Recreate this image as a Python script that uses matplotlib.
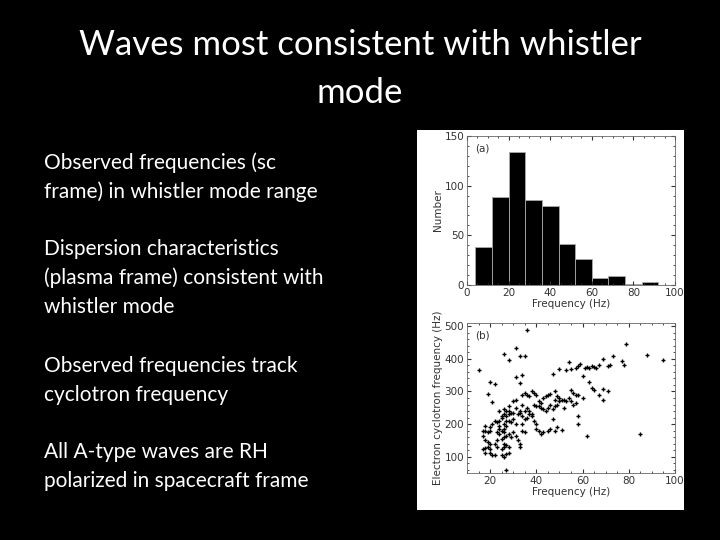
import matplotlib
matplotlib.use("Agg")
import matplotlib.pyplot as plt
from matplotlib.patches import Rectangle

title_lines = ["Waves most consistent with whistler", "mode"]
title_y = [45, 93]
bullets = [["Observed frequencies (sc", "frame) in whistler mode range"],
           ["Dispersion characteristics", "(plasma frame) consistent with", "whistler mode"],
           ["Observed frequencies track", "cyclotron frequency"],
           ["All A-type waves are RH", "polarized in spacecraft frame"]]
bullet_y = [163, 249, 366, 452]

bin_edges = [4, 12, 20, 28, 36, 44, 52, 60, 68, 76, 84, 92]
counts = [38, 89, 134, 86, 80, 41, 26, 7, 9, 1, 3]

scatter_pts = [(15,365),(26,415),(28,398),(31,432),(33,410),(35,410),(36,490),(31,343),(34,352),(33,326),(20,328),(22,322),(19,292),(21,268),(79,447),(88,412),(95,398),(85,170),(62,165),(27,58),(58,225),(58,200),
(47,355),(50,368),(53,365),(54,390),(55,368),(57,372),(58,378),(59,383),(60,347),(61,373),(62,375),(63,372),(64,378),(65,375),(66,372),(67,380),(69,400),(71,378),(72,380),(73,410),(77,392),(78,380),(63,330),(64,310),(65,305),(67,290),(69,275),(69,308),(71,302),(55,305),(56,295),(54,280),(56,260),(57,290),(58,290),(60,280),(53,270),(55,270),(57,265),(52,275),(50,280),(49,285),(48,275),(48,300),(46,292),(45,290),(44,285),(43,280),(42,250),(41,255),(40,290),(39,295),(38,300),(37,285),(36,290),(35,295),(34,290),(34,260),(35,240),(36,250),(37,230),(38,225),(39,260),(40,255),(41,270),(42,265),(43,245),(44,240),(45,250),(46,260),(47,245),(48,255),(49,260),(50,270),(51,275),(52,250),(47,215),(48,180),(46,185),(49,190),(51,182),(45,180),(43,175),(41,180),(42,170),(40,185),(39,210),(40,200),(38,230),(37,240),(36,220),(35,215),(34,225),(33,235),(33,240),(32,230),(31,250),(31,275),(30,270),(29,235),(28,240),(28,230),(27,225),(27,240),(26,232),(26,245),(25,225),(25,218),(24,240),(24,210),(23,205),(22,210),(21,200),(20,190),(20,180),(19,175),(18,180),(18,195),(17,165),(17,180),(18,150),(17,125),(18,128),(19,130),(20,125),(19,145),(18,110),(20,110),(20,140),(21,105),(22,105),(25,105),(26,100),(27,108),(28,110),(25,125),(26,130),(27,135),(28,130),(26,140),(25,155),(26,160),(27,165),(26,175),(25,180),(26,185),(27,195),(28,170),(29,160),(30,175),(31,165),(32,150),(33,140),(33,130),(34,180),(34,200),(35,175),(29,205),(30,215),(31,200),(30,235),(28,255),(28,210),(27,210),(26,200),(24,195),(24,170),(23,150),(22,140),(24,185),(23,130),(23,175)]
sx = [p[0] for p in scatter_pts]
sy = [p[1] for p in scatter_pts]

fig = plt.figure(figsize=(7.2, 5.4), dpi=100, facecolor="black")
for t, y in zip(title_lines, title_y):
    fig.text(0.5, 1 - y/540, t, ha="center", va="center", color="white",
             fontsize=25, family="Lato")
for lines, y0 in zip(bullets, bullet_y):
    for i, t in enumerate(lines):
        fig.text(44/720, 1 - (y0 + 29*i)/540, t, ha="left", va="center", color="white",
                 fontsize=15, family="Lato")

fig.patches.append(Rectangle((417/720, 1-510/540), 267/720, 380/540, transform=fig.transFigure,
                             facecolor="white", edgecolor="none", zorder=-10))

tc = "#333333"
ax1 = fig.add_axes([467/720, 1-285/540, 208/720, 149/540], zorder=5)
widths = [b - a for a, b in zip(bin_edges[:-1], bin_edges[1:])]
ax1.bar(bin_edges[:-1], counts, width=widths, align="edge", color="black", edgecolor="#aaaaaa", linewidth=0.6)
ax1.set_xlim(0, 100); ax1.set_ylim(0, 150)
ax1.set_xticks(range(0, 101, 20)); ax1.set_yticks([0, 50, 100, 150])
ax1.set_xlabel("Frequency (Hz)", fontsize=7.5, color=tc, labelpad=1)
ax1.set_ylabel("Number", fontsize=7.5, color=tc, labelpad=1)
ax1.text(0.04, 0.95, "(a)", transform=ax1.transAxes, fontsize=7.5, color=tc, va="top")

ax2 = fig.add_axes([467/720, 1-473/540, 208/720, 150/540], zorder=5)
ax2.plot(sx, sy, "+", color="black", markersize=3.5, markeredgewidth=1.0)
ax2.set_xlim(10, 100); ax2.set_ylim(50, 510)
ax2.set_xticks(range(20, 101, 20)); ax2.set_yticks(range(100, 501, 100))
ax2.set_xlabel("Frequency (Hz)", fontsize=7.5, color=tc, labelpad=1)
ax2.set_ylabel("Electron cyclotron frequency (Hz)", fontsize=7.5, color=tc, labelpad=1)
ax2.text(0.04, 0.95, "(b)", transform=ax2.transAxes, fontsize=7.5, color=tc, va="top")

for ax in (ax1, ax2):
    ax.set_facecolor("white")
    ax.minorticks_on()
    ax.tick_params(which="both", direction="in", top=True, right=True, labelsize=7.5, colors=tc, pad=2)
    ax.tick_params(which="major", length=3)
    ax.tick_params(which="minor", length=1.5)
    for s in ax.spines.values():
        s.set_color("#666666"); s.set_linewidth(0.6)

fig.savefig("out.png", dpi=100, facecolor="black")
